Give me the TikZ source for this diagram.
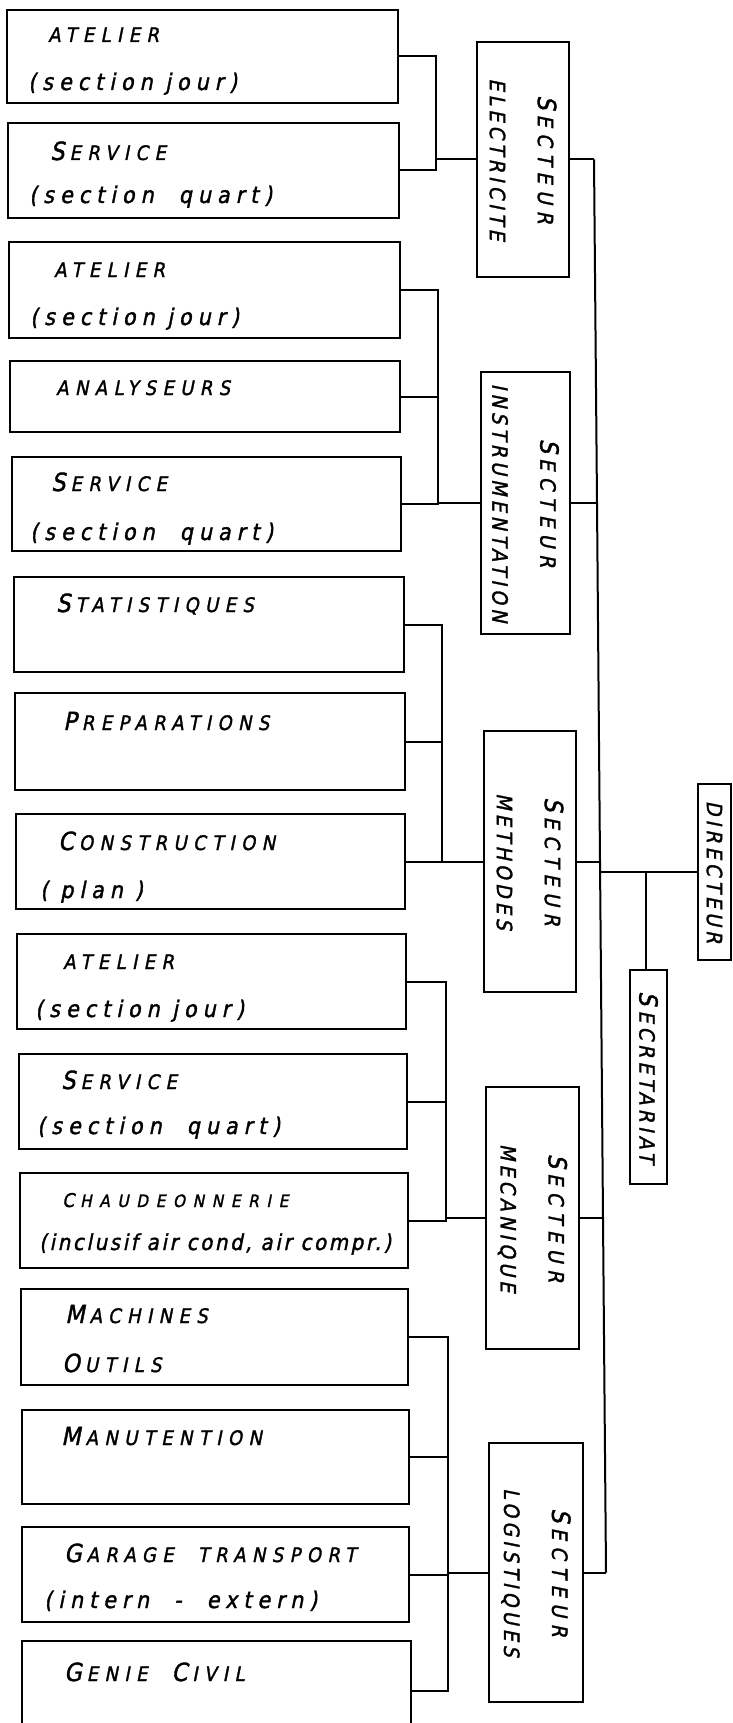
\documentclass[tikz,border=0pt]{standalone}
\usepackage{fontspec}
\usetikzlibrary{calc}
% hand-lettered look: slanted, slightly emboldened condensed sans with open tracking
\newfontfamily\capsfam[FakeSlant=0.2,FakeBold=1.5,LetterSpace=32]{DejaVu Sans Condensed}
\newfontfamily\widecapsfam[FakeSlant=0.2,FakeBold=1.5,LetterSpace=45]{DejaVu Sans Condensed}
\newfontfamily\narrowcapsfam[FakeSlant=0.2,FakeBold=1.5,LetterSpace=20]{DejaVu Sans Condensed}
\newfontfamily\lowfam[FakeSlant=0.2,FakeBold=1.5,LetterSpace=26]{DejaVu Sans Condensed}
\newfontfamily\tightfam[FakeSlant=0.2,FakeBold=1.5,LetterSpace=12]{DejaVu Sans Condensed}
\newcommand\capfont{\capsfam\fontsize{20}{20}\selectfont}
\newcommand\smallcapfont{\widecapsfam\fontsize{17}{17}\selectfont}
\newcommand\lowfont{\lowfam\fontsize{23}{23}\selectfont}
\newcommand\tightfont{\tightfam\fontsize{22}{22}\selectfont}
\newcommand\sectfont{\fontsize{21}{48}\selectfont}
\newcommand\Ini[1]{{\fontsize{25}{25}\selectfont#1}\kern5pt}
% two-line sector label: wide first line, narrower second line
\newcommand\sectlines[2]{{\capsfam\sectfont #1}\\{\narrowcapsfam\sectfont #2}}
% box from corner (x1,y1) to corner (x2,y2), y counted downwards
\newcommand\orgbox[5]{\node[box, minimum width={#4-#2}, minimum height={#5-#3}] (#1) at ({(#2+#4)/2},{(#3+#5)/2}) {};}
\tikzset{
  box/.style={draw, line width=2pt, inner sep=0pt, outer sep=0pt},
  wire/.style={line width=2pt},
  titleline/.style={anchor=base west, inner sep=0pt, font=\capfont},
  noteline/.style={anchor=base west, inner sep=0pt, font=\lowfont},
  tightline/.style={anchor=base west, inner sep=0pt, font=\tightfont},
  sectlabel/.style={rotate=-90, align=center, inner sep=0pt, font=\narrowcapsfam\sectfont},
}
\begin{document}
\begin{tikzpicture}[x=1pt,y=-1pt]
\clip (0,0) rectangle (732,1723);

% ---- units ----
\orgbox{a1}{7}{10}{398}{103}
\node[titleline] (a1t) at (48,42) {ATELIER};
\node[noteline] (a1s) at (28,90) {(section jour)};

\orgbox{s1}{8}{123}{399}{218}
\node[titleline] (s1t) at (50,160) {\Ini{S}ERVICE};
\node[noteline] (s1s) at (29,203) {(section\ \ quart)};

\orgbox{a2}{9}{242}{400}{338}
\node[titleline] (a2t) at (54,277) {ATELIER};
\node[noteline] (a2s) at (30,325) {(section jour)};

\orgbox{an}{10}{361}{400}{432}
\node[titleline] (ant) at (56,395) {ANALYSEURS};

\orgbox{s2}{12}{457}{401}{551}
\node[titleline] (s2t) at (51,491) {\Ini{S}ERVICE};
\node[noteline] (s2s) at (30,540) {(section\ \ quart)};

\orgbox{st}{14}{577}{404}{672}
\node[titleline] (stt) at (56,612) {\Ini{S}TATISTIQUES};

\orgbox{pr}{15}{693}{405}{790}
\node[titleline] (prt) at (63,730) {\Ini{P}REPARATIONS};

\orgbox{co}{16}{814}{405}{909}
\node[titleline] (cot) at (58,850) {\Ini{C}ONSTRUCTION};
\node[noteline] (cos) at (40,898) {(\kern12pt plan\kern12pt)};

\orgbox{a3}{17}{934}{406}{1029}
\node[titleline] (a3t) at (63,969) {ATELIER};
\node[noteline] (a3s) at (35,1017) {(section jour)};

\orgbox{s3}{19}{1054}{407}{1149}
\node[titleline] (s3t) at (61,1089) {\Ini{S}ERVICE};
\node[noteline] (s3s) at (37,1134) {(section\ \ quart)};

\orgbox{ch}{20}{1173}{408}{1268}
\node[titleline, font=\smallcapfont] (cht) at (62,1207) {{\fontsize{19}{19}\selectfont C}\kern6pt HAUDEONNERIE};
\node[tightline] (chs) at (39,1250) {(inclusif air cond, air compr.)};

\orgbox{ma}{21}{1289}{408}{1385}
\node[titleline] (mat) at (65,1323) {\Ini{M}ACHINES};
\node[titleline] (mas) at (62,1372) {\Ini{O}UTILS};

\orgbox{mn}{22}{1410}{409}{1504}
\node[titleline] (mnt) at (61,1445) {\Ini{M}ANUTENTION};

\orgbox{ga}{22}{1527}{409}{1622}
\node[titleline] (gat) at (64,1562) {\Ini{G}ARAGE\ \ TRANSPORT};
\node[noteline] (gas) at (44,1608) {(intern\ \ -\ \ extern)};

\orgbox{ge}{22}{1641}{411}{1740}
\node[titleline] (get) at (64,1681) {\Ini{G}ENIE\ \ \Ini{C}IVIL};

% ---- sectors ----
\orgbox{se}{477}{42}{569}{277}
\node[sectlabel] (set) at (se.center) {\sectlines{\Ini{S}ECTEUR}{ELECTRICITE}};
\orgbox{si}{481}{372}{570}{634}
\node[sectlabel] (sit) at (si.center) {\sectlines{\Ini{S}ECTEUR}{INSTRUMENTATION}};
\orgbox{sm}{484}{731}{576}{992}
\node[sectlabel] (smt) at (sm.center) {\sectlines{\Ini{S}ECTEUR}{METHODES}};
\orgbox{sme}{486}{1087}{579}{1349}
\node[sectlabel] (smet) at (sme.center) {\sectlines{\Ini{S}ECTEUR}{MECANIQUE}};
\orgbox{sl}{489}{1443}{583}{1702}
\node[sectlabel] (slt) at (sl.center) {\sectlines{\Ini{S}ECTEUR}{LOGISTIQUES}};

% ---- direction ----
\orgbox{dir}{698}{784}{731}{960}
\node[sectlabel] (dirt) at (dir.center) {DIRECTEUR};
\orgbox{sec}{630}{970}{667}{1184}
\node[sectlabel] (sect) at (sec.center) {\Ini{S}ECRETARIAT};

% ---- unit feeders ----
\coordinate (gE) at (436,0);
\draw[wire] (a1.east) -- (a1.east -| gE) -- (s1.east -| gE) -- (s1.east);
\draw[wire] (se.west) -- (se.west -| gE);

\coordinate (gI) at (438,0);
\draw[wire] (a2.east) -- (a2.east -| gI) -- (s2.east -| gI) -- (s2.east);
\draw[wire] (an.east) -- (an.east -| gI);
\draw[wire] (si.west) -- (si.west -| gI);

\coordinate (gM) at (442,0);
\draw[wire] (st.east) -- (st.east -| gM) -- (co.east -| gM) -- (co.east);
\draw[wire] (pr.east) -- (pr.east -| gM);
\draw[wire] (sm.west) -- (sm.west -| gM);

\coordinate (gMe) at (446,0);
\draw[wire] (a3.east) -- (a3.east -| gMe) -- (ch.east -| gMe) -- (ch.east);
\draw[wire] (s3.east) -- (s3.east -| gMe);
\draw[wire] (sme.west) -- (sme.west -| gMe);

\coordinate (gL) at (448,0);
\draw[wire] (ma.east) -- (ma.east -| gL) -- (ge.east -| gL) -- (ge.east);
\draw[wire] (mn.east) -- (mn.east -| gL);
\draw[wire] (ga.east) -- (ga.east -| gL);
\draw[wire] (sl.west) -- (sl.west -| gL);

% ---- main bus ----
\path (se.east) ++(25,0) coordinate (jE);
\path (si.east) ++(27,0) coordinate (jI);
\path (sm.east) ++(24,0) coordinate (jM);
\path (sme.east) ++(24,0) coordinate (jMe);
\path (sl.east) ++(23,0) coordinate (jL);
\draw[wire] (se.east) -- (jE);
\draw[wire] (si.east) -- (jI);
\draw[wire] (sm.east) -- (jM);
\draw[wire] (sme.east) -- (jMe);
\draw[wire] (sl.east) -- (jL);
\draw[wire] (jE) -- (jI) -- (jM) -- (jMe) -- (jL);
\draw[wire] (dir.west) -- (dir.west -| jM);
\coordinate (sj) at ($(sec.north)+(-3,0)$);
\draw[wire] (sj) -- (sj |- dir.west);
\end{tikzpicture}
\end{document}
